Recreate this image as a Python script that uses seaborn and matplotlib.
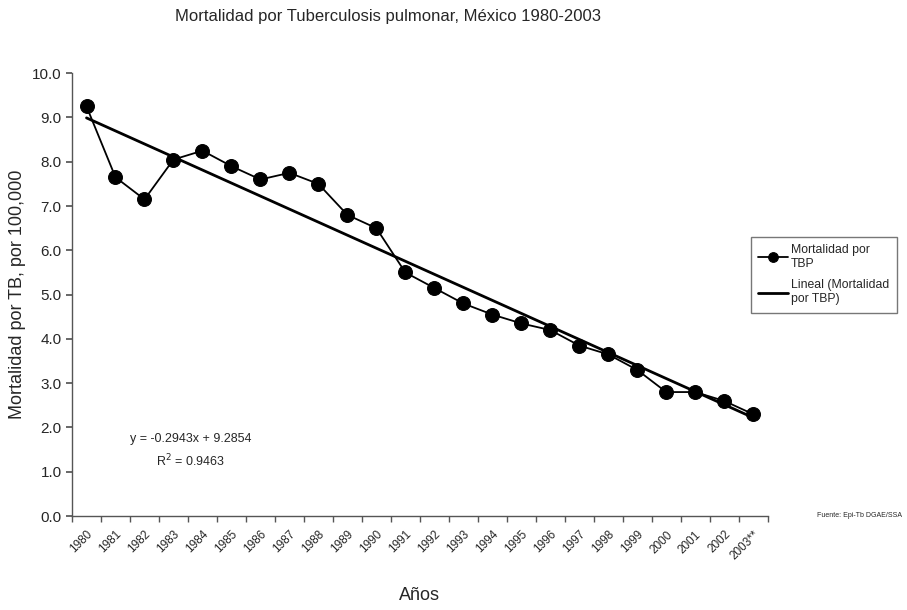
import matplotlib
matplotlib.use("Agg")
import matplotlib.pyplot as plt
import numpy as np
import pandas as pd
import seaborn as sns

# data
years = ["1980", "1981", "1982", "1983", "1984", "1985", "1986", "1987", "1988",
         "1989", "1990", "1991", "1992", "1993", "1994", "1995", "1996", "1997",
         "1998", "1999", "2000", "2001", "2002", "2003**"]
mortalidad = [9.25, 7.65, 7.15, 8.05, 8.25, 7.9, 7.6, 7.75, 7.5, 6.8, 6.5, 5.5,
              5.15, 4.8, 4.55, 4.35, 4.2, 3.85, 3.65, 3.3, 2.8, 2.8, 2.6, 2.3]
slope = -0.2943
intercept = 9.2854
r2 = 0.9463

sns.set_theme(style="white")
plt.rcParams['font.family'] = ['Liberation Sans', 'DejaVu Sans']

df = pd.DataFrame({"pos": np.arange(len(years)), "year": years, "tbp": mortalidad})
df["lineal"] = slope * (df["pos"] + 1) + intercept

fig = plt.figure(figsize=(9.07, 6.10), dpi=100)
ax = fig.add_axes([0.0794, 0.154, 0.767, 0.726])

sns.lineplot(data=df, x="pos", y="tbp", ax=ax, color="black", marker="o",
             markersize=10, linewidth=1.3, markeredgecolor="black",
             label="Mortalidad por\nTBP")
sns.lineplot(data=df, x="pos", y="lineal", ax=ax, color="black", linewidth=2,
             label="Lineal (Mortalidad\npor TBP)")

ax.set_xlim(-0.5, len(years) - 0.5)
ax.set_ylim(0, 10)
ax.set_yticks(np.arange(0, 10.1, 1))
ax.set_yticklabels([f"{v:.1f}" for v in np.arange(0, 10.1, 1)], fontsize=11)
ax.set_xticks(np.arange(len(years)))
ax.set_xticklabels(years, rotation=45, fontsize=8.5, ha="right", rotation_mode="anchor")
ax.set_xticks(np.arange(len(years) + 1) - 0.5, minor=True)
ax.tick_params(axis="x", which="major", length=0, pad=9)
ax.tick_params(axis="x", which="minor", length=4, color="#555555", direction="out", bottom=True)
ax.tick_params(axis="y", length=4, color="#555555", direction="out", left=True)

for s in ["top", "right"]:
    ax.spines[s].set_visible(False)
for s in ["left", "bottom"]:
    ax.spines[s].set_color("#555555")
    ax.spines[s].set_linewidth(1)

ax.set_xlabel("Años", fontsize=13, labelpad=18)
ax.set_ylabel("Mortalidad por TB, por 100,000", fontsize=13)

fig.suptitle("Mortalidad por Tuberculosis pulmonar, México 1980-2003",
             fontsize=12, x=0.428, y=0.985)

ax.text(1.5, 1.75, f"y = {slope}x + {intercept}", fontsize=9, va="center")
ax.text(2.4, 1.25, f"R$^2$ = {r2}", fontsize=9, va="center")

leg = ax.legend(loc="upper left", bbox_to_anchor=(0.967, 0.645), fontsize=8.8,
                frameon=True, fancybox=False, edgecolor="#555555",
                handlelength=2.4, handletextpad=0.3, borderpad=0.6,
                labelspacing=0.8, markerscale=0.7)
leg.get_frame().set_linewidth(1)

fig.text(0.995, 0.152, "Fuente: Epi-Tb DGAE/SSA", fontsize=5, ha="right")

plt.savefig("out.png", dpi=100)
